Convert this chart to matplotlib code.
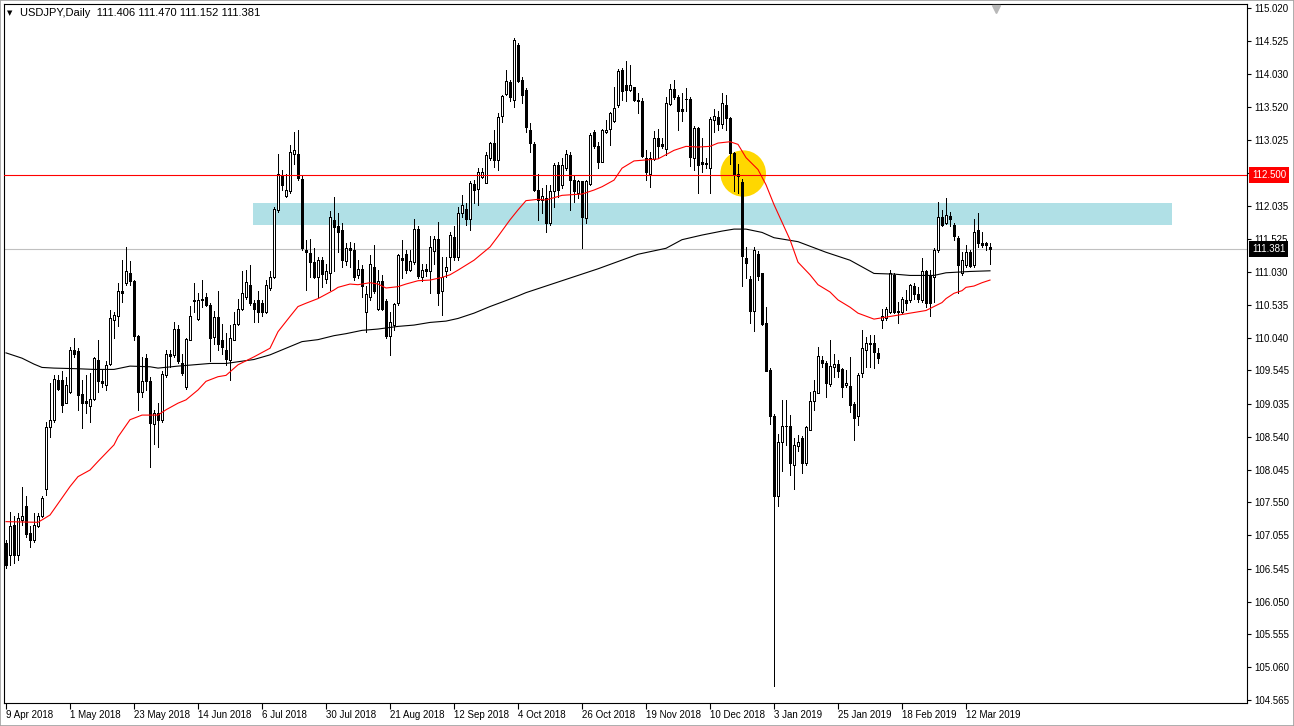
import matplotlib
matplotlib.use("Agg")
import matplotlib.pyplot as plt
from matplotlib.patches import Rectangle, Ellipse
import matplotlib.transforms as mtransforms
import numpy as np

# ---------------- data ----------------
symbol_title = "USDJPY,Daily"
last_ohlc = ["111.406", "111.470", "111.152", "111.381"]

opens = [106.93, 106.76, 107.21, 106.76, 107.28, 107.49, 107.09, 106.98, 107.20, 107.35,
         107.75, 108.69, 108.80, 109.40, 109.40, 109.06, 109.22, 109.85, 109.84, 109.19,
         109.08, 109.00, 109.11, 109.70, 109.39, 109.32, 109.64, 110.30, 110.36, 110.75,
         110.86, 111.01, 110.89, 110.07, 109.22, 109.74, 109.39, 108.74, 108.90, 108.80,
         109.48, 109.79, 109.78, 110.17, 109.65, 109.30, 110.01, 110.61, 110.32, 110.63,
         110.65, 110.53, 110.05, 110.35, 110.00, 109.85, 109.70, 110.01, 110.25, 110.47,
         110.66, 110.84, 110.57, 110.61, 110.56, 110.42, 110.79, 110.95, 111.97, 112.50,
         112.18, 112.26, 112.82, 112.82, 112.43, 111.36, 111.32, 111.19, 110.96, 111.21,
         110.92, 111.02, 111.82, 111.72, 111.66, 111.20, 111.40, 111.37, 110.99, 111.07,
         110.43, 110.65, 111.11, 110.48, 110.89, 110.60, 110.06, 110.23, 110.56, 111.24,
         111.30, 111.06, 111.19, 111.68, 110.96, 111.07, 111.04, 111.35, 111.53, 110.74,
         111.05, 111.26, 111.56, 111.26, 111.92, 111.99, 111.84, 112.36, 112.28, 112.47,
         112.38, 112.75, 112.98, 112.72, 113.39, 113.72, 113.91, 113.63, 114.46, 113.93,
         113.78, 113.18, 112.97, 112.27, 112.12, 112.15, 111.77, 112.25, 112.65, 112.35,
         112.60, 112.80, 112.42, 112.22, 112.40, 111.85, 112.36, 113.14, 112.94, 112.70,
         113.15, 113.19, 113.31, 113.55, 114.08, 113.85, 113.78, 113.82, 113.63, 113.62,
         112.75, 112.52, 112.74, 113.05, 112.96, 112.89, 113.57, 113.79, 113.67, 113.49,
         113.65, 113.64, 112.75, 113.20, 112.69, 112.68, 112.61, 113.33, 113.37, 113.27,
         113.55, 113.36, 112.83, 112.51, 112.39, 111.24, 110.92, 110.44, 111.30, 111.01,
         110.26, 109.55, 108.85, 107.64, 108.47, 108.71, 108.70, 108.12, 108.40, 108.52,
         108.15, 108.65, 109.09, 109.21, 109.70, 109.65, 109.34, 109.59, 109.64, 109.56,
         109.32, 109.31, 109.04, 108.85, 109.51, 109.86, 109.96, 109.96, 109.81, 110.30,
         110.33, 110.42, 110.99, 110.45, 110.43, 110.61, 110.61, 110.82, 110.70, 110.61,
         111.04, 110.97, 110.96, 111.36, 111.87, 111.77, 111.88, 111.74, 111.54, 111.01,
         111.14, 111.34, 111.14, 111.66, 111.47, 111.47, 111.406]

highs = [106.98, 107.41, 107.34, 107.39, 107.79, 107.64, 107.19, 107.39, 107.39, 107.64,
         108.77, 109.35, 109.48, 109.48, 109.53, 109.45, 109.90, 110.03, 109.88, 109.40,
         109.48, 109.50, 109.75, 110.01, 109.55, 109.68, 110.46, 110.42, 110.87, 111.21,
         111.41, 111.20, 110.91, 110.08, 109.75, 109.80, 109.45, 108.95, 109.05, 109.53,
         109.86, 109.85, 110.28, 110.23, 109.80, 110.04, 110.52, 110.86, 110.72, 110.91,
         110.71, 110.56, 110.45, 110.75, 110.25, 110.11, 110.23, 110.43, 110.63, 111.04,
         111.06, 111.14, 110.61, 110.74, 110.61, 110.91, 111.04, 112.01, 112.82, 112.57,
         112.52, 112.95, 113.14, 113.18, 112.50, 111.52, 111.53, 111.39, 111.26, 111.26,
         111.16, 111.96, 112.17, 111.92, 111.77, 111.47, 111.49, 111.47, 111.21, 111.14,
         110.82, 111.29, 111.44, 111.06, 110.99, 110.63, 110.43, 110.56, 111.31, 111.51,
         111.36, 111.36, 111.84, 111.72, 111.16, 111.16, 111.57, 111.57, 111.79, 111.26,
         111.26, 111.64, 111.72, 112.02, 112.20, 112.07, 112.40, 112.42, 112.60, 112.61,
         112.85, 113.00, 113.18, 113.43, 113.71, 114.08, 113.93, 114.56, 114.49, 113.98,
         113.81, 113.29, 113.00, 112.52, 112.30, 112.35, 112.35, 112.68, 112.70, 112.75,
         112.88, 112.84, 112.50, 112.42, 112.41, 112.42, 113.13, 113.18, 112.99, 113.19,
         113.33, 113.45, 113.83, 114.10, 114.11, 114.22, 114.16, 113.83, 113.73, 113.66,
         112.88, 112.85, 113.16, 113.19, 113.05, 113.67, 113.87, 113.93, 113.70, 113.73,
         113.81, 113.67, 113.24, 113.23, 113.05, 112.76, 113.37, 113.49, 113.47, 113.73,
         113.70, 113.37, 112.85, 112.67, 112.43, 111.41, 110.97, 111.41, 111.35, 111.02,
         110.50, 109.58, 108.89, 108.59, 109.10, 109.10, 108.87, 108.52, 108.57, 108.55,
         108.71, 109.22, 109.40, 109.90, 109.76, 109.68, 110.00, 109.80, 109.70, 109.58,
         109.55, 109.75, 109.07, 109.50, 110.16, 110.05, 110.08, 110.08, 109.88, 110.48,
         110.51, 111.06, 111.01, 110.58, 110.66, 110.76, 110.85, 110.86, 110.81, 111.24,
         111.06, 111.06, 111.39, 112.09, 111.97, 112.15, 111.94, 111.77, 111.57, 111.34,
         111.44, 111.36, 111.84, 111.92, 111.64, 111.49, 111.470]

lows = [106.56, 106.61, 106.63, 106.68, 107.21, 107.03, 106.88, 106.96, 107.18, 107.33,
        107.66, 108.54, 108.77, 109.25, 108.92, 109.05, 109.20, 109.75, 108.95, 108.67,
        108.90, 108.77, 109.10, 109.22, 109.30, 109.25, 109.63, 110.03, 110.22, 110.58,
        110.84, 110.84, 110.00, 108.95, 109.15, 109.25, 108.09, 108.44, 108.39, 108.77,
        109.45, 109.60, 109.75, 109.65, 109.48, 109.27, 110.00, 110.43, 110.31, 110.51,
        110.52, 109.68, 109.95, 109.85, 109.80, 109.63, 109.40, 110.00, 110.23, 110.46,
        110.63, 110.53, 110.28, 110.28, 110.36, 110.41, 110.76, 110.94, 111.94, 112.27,
        112.17, 112.22, 112.67, 112.42, 111.36, 110.76, 110.96, 110.94, 110.66, 110.81,
        110.86, 110.76, 111.04, 111.34, 111.11, 111.14, 111.11, 110.91, 110.94, 110.66,
        110.12, 110.61, 110.71, 110.46, 110.46, 110.03, 109.78, 110.16, 110.53, 110.94,
        111.01, 111.04, 111.16, 110.94, 110.89, 110.97, 110.71, 111.16, 110.53, 110.38,
        110.96, 111.06, 111.21, 111.21, 111.87, 111.74, 111.67, 112.07, 112.04, 112.45,
        112.37, 112.72, 112.62, 112.57, 113.30, 113.71, 113.61, 113.53, 113.91, 113.58,
        113.15, 112.85, 112.25, 111.82, 111.92, 111.64, 111.74, 112.02, 112.17, 112.30,
        112.57, 111.97, 112.09, 112.15, 111.39, 111.77, 112.35, 112.91, 112.60, 112.69,
        113.13, 112.95, 113.30, 113.53, 113.63, 113.61, 113.76, 113.61, 113.44, 112.77,
        112.42, 112.31, 112.72, 112.75, 112.91, 112.80, 113.55, 113.64, 113.17, 113.32,
        113.46, 112.64, 112.58, 112.23, 112.55, 112.61, 112.23, 113.14, 113.17, 113.20,
        113.17, 112.67, 112.26, 112.23, 110.82, 110.94, 110.26, 110.14, 110.91, 110.23,
        109.53, 108.73, 104.78, 107.49, 108.02, 108.42, 107.96, 107.76, 108.32, 107.99,
        108.12, 108.64, 108.95, 109.20, 109.60, 109.15, 109.31, 109.45, 109.45, 109.15,
        109.30, 108.92, 108.49, 108.72, 109.45, 109.60, 109.60, 109.58, 109.65, 110.18,
        110.31, 110.41, 110.41, 110.26, 110.41, 110.46, 110.58, 110.63, 110.58, 110.58,
        110.51, 110.36, 110.58, 111.34, 111.72, 111.76, 111.72, 111.52, 110.71, 110.99,
        111.11, 111.11, 111.11, 111.41, 111.41, 111.36, 111.152]

closes = [106.61, 107.19, 106.76, 107.31, 107.34, 107.07, 106.98, 107.21, 107.35, 107.61,
          108.69, 108.80, 109.41, 109.27, 109.02, 109.32, 109.85, 109.80, 109.17, 109.06,
          109.06, 109.11, 109.73, 109.38, 109.35, 109.62, 110.33, 110.38, 110.75, 110.72,
          111.04, 110.89, 110.06, 109.22, 109.38, 109.39, 108.75, 108.90, 108.80, 109.49,
          109.80, 109.77, 110.17, 109.68, 109.50, 110.02, 110.37, 110.59, 110.61, 110.61,
          110.53, 110.03, 110.35, 109.94, 109.90, 109.71, 110.03, 110.25, 110.48, 110.71,
          110.88, 110.56, 110.47, 110.43, 110.42, 110.83, 110.96, 111.98, 112.51, 112.35,
          112.27, 112.85, 112.87, 112.45, 111.39, 111.33, 111.19, 110.96, 111.21, 111.00,
          111.05, 111.86, 111.71, 111.64, 111.21, 111.40, 111.37, 110.95, 111.07, 110.82,
          110.70, 111.15, 110.74, 110.90, 110.48, 110.06, 110.28, 110.55, 111.29, 111.21,
          111.06, 111.20, 111.68, 110.97, 111.06, 111.04, 111.41, 111.53, 110.72, 110.96,
          111.11, 111.59, 111.26, 111.93, 112.04, 111.84, 112.37, 112.27, 112.55, 112.55,
          112.80, 112.98, 112.72, 113.38, 113.69, 113.92, 113.68, 114.54, 113.92, 113.71,
          113.23, 112.98, 112.27, 112.12, 112.18, 111.77, 112.25, 112.65, 112.27, 112.65,
          112.81, 112.42, 112.25, 112.40, 111.87, 112.40, 113.10, 112.93, 112.70, 113.18,
          113.18, 113.43, 113.51, 114.07, 113.77, 113.78, 113.86, 113.63, 113.61, 112.79,
          112.55, 112.75, 113.05, 112.94, 112.93, 113.59, 113.79, 113.67, 113.46, 113.46,
          113.64, 112.77, 113.20, 112.65, 112.67, 112.66, 113.34, 113.39, 113.27, 113.59,
          113.36, 112.83, 112.51, 112.48, 111.28, 111.17, 110.44, 111.36, 110.97, 110.24,
          109.54, 108.85, 107.64, 108.47, 108.70, 108.70, 108.14, 108.42, 108.47, 108.15,
          108.69, 109.08, 109.23, 109.76, 109.65, 109.36, 109.61, 109.64, 109.54, 109.30,
          109.36, 109.02, 108.82, 109.48, 109.89, 109.96, 109.95, 109.83, 109.73, 110.37,
          110.48, 111.01, 110.43, 110.42, 110.62, 110.57, 110.84, 110.70, 110.62, 111.04,
          110.56, 110.57, 111.37, 111.87, 111.74, 111.89, 111.83, 111.57, 111.14, 111.21,
          111.34, 111.12, 111.64, 111.47, 111.44, 111.44, 111.381]

date_labels = ["9 Apr 2018", "1 May 2018", "23 May 2018", "14 Jun 2018", "6 Jul 2018",
               "30 Jul 2018", "21 Aug 2018", "12 Sep 2018", "4 Oct 2018", "26 Oct 2018",
               "19 Nov 2018", "10 Dec 2018", "3 Jan 2019", "25 Jan 2019", "18 Feb 2019",
               "12 Mar 2019"]
bars_per_date_label = 16

# red moving average (bar index, value)
ma_red_bars = [0, 8, 11, 16, 18, 21, 23, 27, 28, 31, 34, 38, 40, 43, 45, 48, 50, 53, 55, 58,
               62, 66, 68, 71, 73, 75, 78, 82, 83, 86, 88, 91, 93, 95, 98, 100, 103, 106, 109, 111,
               113, 117, 121, 123, 126, 128, 130, 133, 135, 139, 144, 147, 149, 152, 154, 157, 159, 163, 167, 170,
               173, 176, 178, 181, 183, 185, 188, 190, 192, 196, 198, 201, 203, 206, 208, 211, 213, 217, 222, 227,
               230, 232, 234, 235, 237, 239, 240, 242, 244, 246]
ma_red_vals = [107.26, 107.25, 107.36, 107.79, 107.94, 108.04, 108.17, 108.42, 108.54, 108.80,
               108.87, 108.87, 108.95, 109.05, 109.10, 109.25, 109.38, 109.45, 109.47, 109.63,
               109.75, 109.88, 110.13, 110.36, 110.51, 110.56, 110.63, 110.76, 110.80, 110.85,
               110.84, 110.87, 110.85, 110.79, 110.81, 110.85, 110.90, 110.91, 110.95, 110.99,
               111.06, 111.21, 111.41, 111.57, 111.82, 111.97, 112.11, 112.13, 112.12, 112.19,
               112.21, 112.27, 112.32, 112.42, 112.60, 112.71, 112.72, 112.74, 112.87, 112.93,
               112.92, 112.93, 112.98, 113.00, 112.96, 112.76, 112.58, 112.35, 112.05, 111.52,
               111.18, 110.99, 110.84, 110.73, 110.61, 110.50, 110.41, 110.32, 110.37, 110.42,
               110.45, 110.51, 110.57, 110.63, 110.71, 110.75, 110.80, 110.82, 110.87, 110.91]

# black moving average (bar index, value)
ma_black_bars = [0, 4, 7, 9, 12, 18, 22, 27, 31, 36, 38, 43, 47, 51, 55, 62, 66, 70, 74, 78,
                 82, 85, 89, 93, 98, 102, 106, 110, 113, 117, 121, 125, 128, 130, 133, 135, 137, 148, 158, 165,
                 169, 174, 179, 182, 185, 189, 192, 198, 205, 211, 217, 222, 226, 229, 232, 235, 238, 241, 246]
ma_black_vals = [109.81, 109.73, 109.64, 109.59, 109.58, 109.57, 109.56, 109.56, 109.61, 109.60,
                 109.58, 109.61, 109.63, 109.65, 109.65, 109.71, 109.78, 109.88, 109.98, 110.01,
                 110.07, 110.10, 110.15, 110.17, 110.21, 110.23, 110.27, 110.29, 110.33, 110.41,
                 110.51, 110.60, 110.67, 110.72, 110.78, 110.82, 110.86, 111.08, 111.30, 111.39,
                 111.52, 111.59, 111.65, 111.68, 111.68, 111.63, 111.55, 111.49, 111.33, 111.21,
                 111.01, 111.00, 110.98, 110.98, 110.98, 111.02, 111.03, 111.04, 111.05]

price_ticks = [115.020, 114.525, 114.030, 113.520, 113.025, 112.535, 112.035, 111.525, 111.030,
               110.535, 110.040, 109.545, 109.035, 108.540, 108.045, 107.550, 107.055, 106.545,
               106.050, 105.555, 105.060, 104.565]
hidden_tick = 112.535

level_line = 112.500
last_price = 111.381
zone_low, zone_high = 111.742, 112.074
zone_start_bar, zone_end_bar = 61.75, 291.5
circle_bar, circle_price = 184.3, 112.52
circle_w_bars, circle_h_price = 11.4, 0.70

# ---------------- figure ----------------
W, H = 1294, 726
fig = plt.figure(figsize=(W / 100, H / 100), dpi=100)
fig.patch.set_facecolor("white")
ax = fig.add_axes([4 / W, (H - 703) / H, (1247 - 4) / W, (703 - 4) / H])
ax.set_facecolor("white")

n = len(closes)
x = np.arange(n)
ax.set_xlim(-0.5, 310.25)
ax.set_ylim(104.520, 115.081)

# background objects
ax.add_patch(Rectangle((zone_start_bar, zone_low), zone_end_bar - zone_start_bar,
                       zone_high - zone_low, facecolor="#B0E0E6", edgecolor="none", zorder=1))
ax.add_patch(Ellipse((circle_bar, circle_price), circle_w_bars, circle_h_price,
                     facecolor="#FFD700", edgecolor="none", zorder=1.5))
ax.axhline(last_price, color="#C0C0C0", lw=0.8, zorder=1.8)

# candles
o = np.array(opens); h = np.array(highs); l = np.array(lows); c = np.array(closes)
ax.vlines(x, l, h, color="black", lw=0.7, zorder=3, antialiased=False)
up = c >= o
body_bottom = np.minimum(o, c)
body_height = np.abs(c - o)
ax.bar(x[up], body_height[up], bottom=body_bottom[up], width=0.5, color="white",
       edgecolor="black", linewidth=0.7, zorder=4, antialiased=False)
ax.bar(x[~up], body_height[~up], bottom=body_bottom[~up], width=0.5, color="black",
       edgecolor="black", linewidth=0.7, zorder=4, antialiased=False)

# moving averages
ax.plot(ma_black_bars, ma_black_vals, color="black", lw=0.8, zorder=5)
ax.plot(ma_red_bars, ma_red_vals, color="red", lw=0.8, zorder=5)

# horizontal level
ax.axhline(level_line, color="red", lw=0.8, zorder=6)

# axes styling
for s in ax.spines.values():
    s.set_color("black")
    s.set_linewidth(0.8)
ax.yaxis.tick_right()
ax.set_yticks(price_ticks)
ax.set_yticklabels(["" if t == hidden_tick else f"{t:.3f}" for t in price_ticks])
ax.tick_params(axis="y", direction="out", length=3, width=0.8, pad=2,
               labelsize=7, labelfontfamily="Liberation Sans")
ax.set_xticks(np.arange(len(date_labels)) * bars_per_date_label)
ax.set_xticklabels(date_labels, ha="left")
ax.tick_params(axis="x", direction="out", length=4, width=0.8, pad=1,
               labelsize=7, labelfontfamily="Liberation Sans")

# right-axis price tags
trans = mtransforms.blended_transform_factory(ax.transAxes, ax.transData)
ax.text(1.004, level_line, f"{level_line:.3f}", transform=trans, ha="left", va="center",
        color="white", fontsize=7, family="Liberation Sans", zorder=10, clip_on=False,
        bbox=dict(boxstyle="square,pad=0.28", fc="red", ec="none"))
ax.text(1.004, last_price, f"{last_price:.3f}", transform=trans, ha="left", va="center",
        color="white", fontsize=7, family="Liberation Sans", zorder=10, clip_on=False,
        bbox=dict(boxstyle="square,pad=0.28", fc="black", ec="none"))

# chart-shift marker at top
trans2 = mtransforms.blended_transform_factory(ax.transData, ax.transAxes)
ax.plot([247.5], [0.993], marker="v", color="#B8B8B8", ms=6, transform=trans2,
        clip_on=False, zorder=10)

# title
fig.text(7 / W, 1 - 13 / H, "\u25BC", fontsize=5, va="center", ha="left", color="black")
fig.text(20 / W, 1 - 13 / H, f"{symbol_title}  " + " ".join(last_ohlc), fontsize=8,
         family="Liberation Sans", va="center", ha="left", color="black")

# outer frame
fig.patches.append(Rectangle((0, 0), 1, 1, transform=fig.transFigure, fill=False,
                             ec="#A0A0A0", lw=1.2))

fig.savefig("out.png", dpi=100)
